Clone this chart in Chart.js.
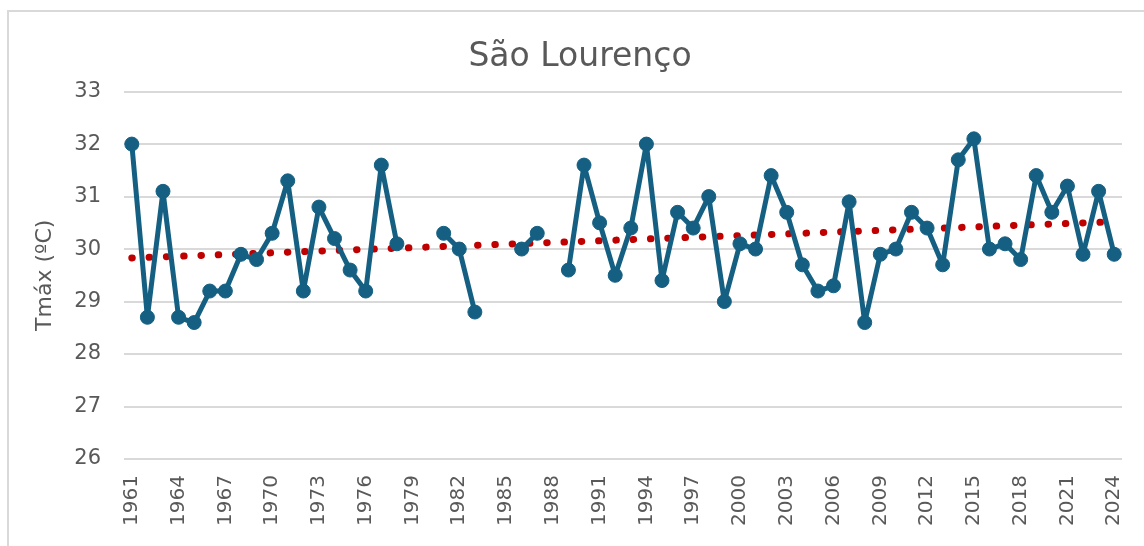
<!DOCTYPE html>
<html>
<head>
<meta charset="utf-8">
<script src="https://cdn.jsdelivr.net/npm/chart.js@4"></script>
<style>
  html, body { margin: 0; padding: 0; background: #ffffff; }
  #wrap { position: relative; width: 1144px; height: 546px; overflow: hidden; }
  #frame { position: absolute; left: 7px; top: 10px; width: 1200px; height: 600px;
           border-left: 2px solid #d9d9d9; border-top: 2px solid #d9d9d9; }
  #myChart { position: absolute; left: 0; top: 0; }
</style>
</head>
<body>
<div id="wrap">
  <div id="frame"></div>
  <canvas id="myChart" width="1144" height="546"></canvas>
</div>
<script>
var years = [];
for (var yr = 1961; yr <= 2024; yr++) years.push(String(yr));

// Tmáx por ano (null = sem dados)
var tmax = [
  32.0, 28.7, 31.1, 28.7, 28.6, 29.2, 29.2, 29.9, 29.8, 30.3, // 1961-1970
  31.3, 29.2, 30.8, 30.2, 29.6, 29.2, 31.6, 30.1, null, null, // 1971-1980
  30.3, 30.0, 28.8, null, null, 30.0, 30.3, null, 29.6, 31.6, // 1981-1990
  30.5, 29.5, 30.4, 32.0, 29.4, 30.7, 30.4, 31.0, 29.0, 30.1, // 1991-2000
  30.0, 31.4, 30.7, 29.7, 29.2, 29.3, 30.9, 28.6, 29.9, 30.0, // 2001-2010
  30.7, 30.4, 29.7, 31.7, 32.1, 30.0, 30.1, 29.8, 31.4, 30.7, // 2011-2020
  31.2, 29.9, 31.1, 29.9                                      // 2021-2024
];

// linha de tendência (extremos)
var trendStart = 29.83;
var trendEnd = 30.52;
var trend = years.map(function (y, i) {
  if (i === 0) return trendStart;
  if (i === years.length - 1) return trendEnd;
  return null;
});

var textColor = '#595959';
var ctx = document.getElementById('myChart').getContext('2d');

var myChart = new Chart(ctx, {
  type: 'line',
  data: {
    labels: years,
    datasets: [{
      label: 'Tmáx',
      data: tmax,
      borderColor: '#156082',
      backgroundColor: '#156082',
      borderWidth: 5,
      borderJoinStyle: 'round',
      pointRadius: 7,
      pointBorderWidth: 1,
      pointBackgroundColor: '#156082',
      pointBorderColor: '#156082',
      spanGaps: false,
      tension: 0,
      order: 1
    }, {
      label: 'Tendência',
      data: trend,
      borderColor: '#C00000',
      borderWidth: 7,
      borderDash: [0.5, 16.8],
      borderCapStyle: 'round',
      pointRadius: 0,
      spanGaps: true,
      order: 2
    }]
  },
  options: {
    responsive: false,
    animation: false,
    layout: {
      padding: { left: 38, right: 22, top: 0, bottom: 0 }
    },
    plugins: {
      legend: { display: false },
      tooltip: { enabled: false },
      title: {
        display: true,
        text: 'São Lourenço',
        color: textColor,
        font: { family: 'DejaVu Sans', size: 33, weight: 'normal' },
        padding: { top: 38, bottom: 14 }
      }
    },
    scales: {
      x: {
        offset: true,
        grid: { display: false, drawTicks: false },
        border: { display: false },
        ticks: {
          autoSkip: false,
          maxRotation: 90,
          minRotation: 90,
          padding: 16,
          color: textColor,
          font: { family: 'DejaVu Sans', size: 20 },
          callback: function (value, index) {
            return index % 3 === 0 ? years[index] : '';
          }
        },
        afterFit: function (scale) {
          scale.height = 87;
          scale.paddingLeft = 0;
          scale.paddingRight = 0;
        }
      },
      y: {
        min: 26,
        max: 33,
        grid: { color: '#d9d9d9', lineWidth: 2, drawTicks: false },
        border: { display: false },
        ticks: {
          stepSize: 1,
          padding: 23,
          color: textColor,
          font: { family: 'DejaVu Sans', size: 21 }
        },
        title: {
          display: true,
          text: 'Tmáx (ºC)',
          color: textColor,
          font: { family: 'DejaVu Sans', size: 22, lineHeight: 0.7 },
          padding: { top: 0, bottom: 0 }
        },
        afterFit: function (scale) { scale.width = 86; }
      }
    }
  }
});
</script>
</body>
</html>
